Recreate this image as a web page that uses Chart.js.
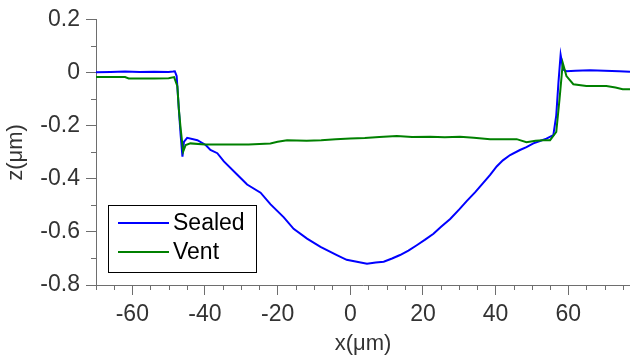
<!DOCTYPE html>
<html>
<head>
<meta charset="utf-8">
<script src="https://cdn.jsdelivr.net/npm/chart.js@4/dist/chart.umd.min.js"></script>
<style>
html,body{margin:0;padding:0;background:#fff;}
canvas{display:block;}
</style>
</head>
<body>
<canvas id="c" width="630" height="358"></canvas>
<script>
// ---- data ----
const seriesNames = ["Sealed", "Vent"];
const sealedX = [-70,-66,-62,-58,-54,-50,-48.8,-48.3,-47.8,-47.2,-46.7,-46.2,-45.8,-44.9,-42.1,-39.8,-38.5,-36.6,-34.8,-31.1,-28.4,-24.7,-22,-18.3,-15.6,-11.9,-8.2,-3.7,-1,1.8,4.6,7,9.2,11.5,13.7,16,18.3,20.5,22.9,25,27.5,30,32.1,34.4,36.6,38.5,40.3,42,44,46.7,48.5,50.4,52,54,55.9,56.7,57.3,57.9,58.6,59.5,62,66,70,74,77];
const sealedZ = [0.002,0.003,0.005,0.003,0.004,0.003,0.005,0.006,-0.012,-0.136,-0.234,-0.316,-0.26,-0.245,-0.254,-0.272,-0.291,-0.303,-0.334,-0.384,-0.421,-0.452,-0.495,-0.545,-0.588,-0.625,-0.656,-0.687,-0.705,-0.712,-0.72,-0.715,-0.712,-0.70,-0.687,-0.67,-0.65,-0.63,-0.607,-0.58,-0.551,-0.515,-0.483,-0.45,-0.415,-0.385,-0.353,-0.33,-0.31,-0.291,-0.28,-0.266,-0.258,-0.248,-0.235,-0.16,-0.037,0.068,0.012,0.006,0.008,0.01,0.008,0.006,0.004];
const ventX = [-70,-62,-61,-54,-50,-48.5,-47.6,-47.2,-46.7,-46,-45.3,-44,-40,-34,-28,-22,-20,-17.4,-12,-8,-4,0,4,8,12.8,17,22,26,30.2,34,38.5,42,45.8,48.5,51,53.1,55,56.7,57.6,58.5,59.5,61.4,65,70.5,73,75,77];
const ventZ = [-0.016,-0.016,-0.021,-0.021,-0.02,-0.016,-0.05,-0.136,-0.21,-0.297,-0.272,-0.266,-0.27,-0.27,-0.27,-0.266,-0.26,-0.254,-0.256,-0.254,-0.25,-0.248,-0.246,-0.242,-0.238,-0.242,-0.241,-0.243,-0.241,-0.245,-0.25,-0.25,-0.25,-0.262,-0.256,-0.254,-0.254,-0.223,-0.099,0.037,-0.012,-0.043,-0.05,-0.05,-0.055,-0.062,-0.062];
const xTicks = [-60,-40,-20,0,20,40,60];
const yTicks = [-0.8,-0.6,-0.4,-0.2,0,0.2];
const xMinorStep = 5;
const yMinorStep = 0.1;

const pts = (xs, ys) => xs.map((x, i) => ({x: x, y: ys[i]}));
const FONT = "'Liberation Sans', Arial, sans-serif";
const AXIS = '#6e6e6e';
const TXT = '#333333';

const minorTicks = {
  id: 'minorTicks',
  afterDraw(chart) {
    const ctx = chart.ctx;
    const xs = chart.scales.x, ys = chart.scales.y;
    ctx.save();
    ctx.strokeStyle = AXIS;
    ctx.lineWidth = 1;
    ctx.beginPath();
    for (let v = xs.min; v <= xs.max + 1e-9; v += xMinorStep) {
      const r = Math.round(v / xMinorStep) * xMinorStep;
      if (r < xs.min || r > xs.max || xTicks.includes(r)) continue;
      const px = Math.round(xs.getPixelForValue(r)) + 0.5;
      ctx.moveTo(px, ys.bottom);
      ctx.lineTo(px, ys.bottom + 5);
    }
    for (let k = -8; k <= 2; k++) {
      const r = k * yMinorStep;
      if (yTicks.some(t => Math.abs(t - r) < 1e-9)) continue;
      const py = Math.round(ys.getPixelForValue(r)) + 0.5;
      ctx.moveTo(xs.left, py);
      ctx.lineTo(xs.left - 5, py);
    }
    ctx.stroke();
    ctx.restore();
  }
};

const boxLegend = {
  id: 'boxLegend',
  afterDraw(chart) {
    const ctx = chart.ctx;
    const L = 108, T = 205, W = 148, H = 67;
    ctx.save();
    ctx.fillStyle = '#fff';
    ctx.fillRect(L, T, W, H);
    ctx.strokeStyle = '#000';
    ctx.lineWidth = 1;
    ctx.strokeRect(L + 0.5, T + 0.5, W, H);
    ctx.font = '23px ' + FONT;
    ctx.textBaseline = 'middle';
    chart.data.datasets.forEach((ds, i) => {
      const y = 223 + i * 29;
      ctx.strokeStyle = ds.borderColor;
      ctx.lineWidth = 2;
      ctx.beginPath();
      ctx.moveTo(118, y);
      ctx.lineTo(169, y);
      ctx.stroke();
      ctx.fillStyle = '#000';
      ctx.fillText(ds.label, 173, y + 1);
    });
    ctx.restore();
  }
};

new Chart(document.getElementById('c'), {
  type: 'line',
  data: {
    datasets: [
      {label: seriesNames[0], data: pts(sealedX, sealedZ), borderColor: '#0000ff', borderWidth: 2, pointRadius: 0, tension: 0, order: 1},
      {label: seriesNames[1], data: pts(ventX, ventZ), borderColor: '#008000', borderWidth: 2, pointRadius: 0, tension: 0, order: 0}
    ]
  },
  options: {
    responsive: false,
    animation: false,
    devicePixelRatio: 1,
    layout: {padding: {top: 16, right: 0, left: 0, bottom: 0}},
    plugins: {legend: {display: false}, tooltip: {enabled: false}},
    scales: {
      x: {
        type: 'linear', min: -70, max: 77,
        afterBuildTicks: s => { s.ticks = xTicks.map(v => ({value: v})); },
        afterFit: s => { s.height = 73; },
        grid: {drawOnChartArea: false, drawTicks: true, tickLength: 10, color: AXIS},
        border: {display: true, color: AXIS, width: 1},
        ticks: {color: TXT, font: {family: FONT, size: 23, lineHeight: 1.0}, padding: 8, maxRotation: 0, autoSkip: false},
        title: {display: true, text: 'x(\u03bcm)', color: TXT, font: {family: FONT, size: 22}, padding: {top: 0, bottom: 1}}
      },
      y: {
        type: 'linear', min: -0.8, max: 0.2,
        afterBuildTicks: s => { s.ticks = yTicks.map(v => ({value: v})); },
        afterFit: s => { s.width = 96; },
        grid: {drawOnChartArea: false, drawTicks: true, tickLength: 10, color: AXIS},
        border: {display: true, color: AXIS, width: 1},
        ticks: {color: TXT, font: {family: FONT, size: 23}, padding: 6, callback: v => String(Math.round(v * 10) / 10)},
        title: {display: true, text: 'z(\u03bcm)', color: TXT, font: {family: FONT, size: 22}, padding: {top: 3, bottom: 3}}
      }
    }
  },
  plugins: [minorTicks, boxLegend]
});
</script>
</body>
</html>
